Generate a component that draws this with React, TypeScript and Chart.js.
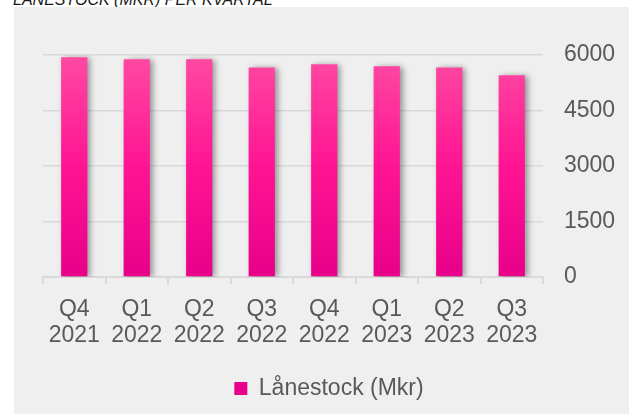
import { Chart, registerables } from "chart.js";
import { useEffect, useRef } from "react";

Chart.register(...registerables);

const quarters = ["Q4", "Q1", "Q2", "Q3", "Q4", "Q1", "Q2", "Q3"];
const years = ["2021", "2022", "2022", "2022", "2022", "2023", "2023", "2023"];
const lanestock = [5940, 5885, 5885, 5665, 5750, 5695, 5665, 5450];
const yTicks = [0, 1500, 3000, 4500, 6000];

const FONT = "'Liberation Sans', Arial, sans-serif";
const TEXT = "#595959";
const GRID = "#d9d9d9";

// skugga bakom staplarna
const shadowPlugin = {
  id: "barShadow",
  beforeDatasetsDraw(chart: any) {
    const ctx = chart.ctx;
    ctx.save();
    ctx.shadowColor = "rgba(0,0,0,0.38)";
    ctx.shadowBlur = 6;
    ctx.shadowOffsetX = 3;
    ctx.shadowOffsetY = 1;
  },
  afterDatasetsDraw(chart: any) {
    chart.ctx.restore();
  },
};

const pinkFill = (context: any) => {
  const { chart } = context;
  const area = chart.chartArea;
  if (!area) return "#f5008f";
  const g = chart.ctx.createLinearGradient(0, area.top, 0, area.bottom);
  g.addColorStop(0, "#ff4aa2");
  g.addColorStop(0.5, "#ff1493");
  g.addColorStop(1, "#e8008a");
  return g;
};

export default function App() {
  const canvasRef = useRef<HTMLCanvasElement>(null);

  useEffect(() => {
    if (!canvasRef.current) return;
    const chart = new Chart(canvasRef.current, {
      type: "bar",
      data: {
        labels: quarters.map((q, i) => [q, years[i]]),
        datasets: [
          {
            label: "Lånestock (Mkr)",
            data: lanestock,
            backgroundColor: pinkFill,
            borderWidth: 0,
            categoryPercentage: 0.84,
            barPercentage: 0.5,
          },
        ],
      },
      options: {
        responsive: false,
        animation: false,
        layout: { padding: { left: 29, top: 48, right: 14, bottom: 4 } },
        plugins: {
          tooltip: { enabled: false },
          legend: {
            position: "bottom",
            labels: {
              boxWidth: 13,
              boxHeight: 13,
              color: TEXT,
              font: { family: FONT, size: 23 },
              padding: 16,
            },
          },
        },
        scales: {
          x: {
            grid: {
              drawOnChartArea: false,
              drawTicks: true,
              tickLength: 7,
              color: GRID,
              lineWidth: 2,
            },
            border: { display: true, color: GRID, width: 2 },
            ticks: {
              color: TEXT,
              font: { family: FONT, size: 23, lineHeight: 1.15 },
              padding: 12,
              maxRotation: 0,
              autoSkip: false,
            },
          },
          y: {
            position: "right",
            min: 0,
            max: 6000,
            afterBuildTicks: (axis: any) => {
              axis.ticks = yTicks.map((v) => ({ value: v }));
            },
            afterFit: (axis: any) => {
              axis.width = 72;
            },
            grid: { drawTicks: false, color: GRID, lineWidth: 1.5 },
            border: { display: false },
            ticks: {
              color: TEXT,
              font: { family: FONT, size: 23 },
              padding: 21,
              callback: (v: any) => String(v),
            },
          },
        },
      },
      plugins: [shadowPlugin],
    });
    return () => chart.destroy();
  }, []);

  return (
    <div
      style={{
        position: "fixed",
        left: 0,
        top: 0,
        width: 629,
        height: 414,
        background: "#ffffff",
        overflow: "hidden",
      }}
    >
      <div
        style={{
          position: "absolute",
          left: 13,
          top: -8,
          font: `italic 16px/16px ${FONT}`,
          color: "#1a1a1a",
          whiteSpace: "nowrap",
        }}
      >
        LÅNESTOCK (MKR) PER KVARTAL
      </div>
      <div
        style={{
          position: "absolute",
          left: 14,
          top: 7,
          width: 615,
          height: 407,
          background: "#efefef",
        }}
      >
        <canvas ref={canvasRef} width={615} height={407} style={{ display: "block" }} />
      </div>
    </div>
  );
}
